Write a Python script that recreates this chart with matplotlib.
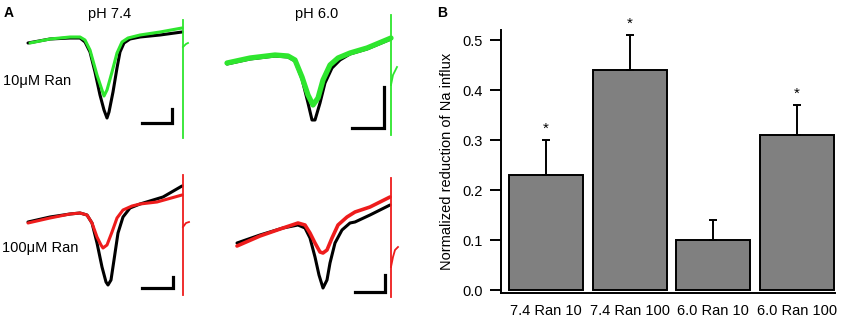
import matplotlib.pyplot as plt

plt.rcParams['font.family'] = ['Liberation Sans', 'DejaVu Sans']

W, H = 843, 318
GREEN = '#2ee62e'
RED = '#ee1c1c'

# ---- panel A: current traces (t in ms, I in relative units) ----
# 10 uM, pH 7.4
tl_ctrl_t = [0, 2.2, 4.2, 5.2, 5.7, 6.2, 6.7, 7.2, 7.6, 7.9, 8.1, 8.5, 8.9, 9.2, 9.6, 10.2, 11.2, 13.2, 15.4]
tl_ctrl_i = [0, 0.4, 0.5, 0.5, 0.1, -0.9, -2.9, -5.2, -6.7, -7.5, -6.9, -4.9, -2.5, -0.9, 0, 0.4, 0.6, 0.8, 1.1]
tl_drug_t = [0.2, 2.2, 4.2, 5.2, 5.7, 6.2, 6.9, 7.4, 7.6, 7.9, 8.4, 8.9, 9.4, 10.0, 11.2, 13.2, 15.4]
tl_drug_i = [0, 0.4, 0.6, 0.6, 0.3, -0.7, -3.2, -4.7, -5.3, -4.7, -2.9, -1.0, 0.1, 0.5, 0.8, 1.1, 1.5]
# 10 uM, pH 6.0
tr_ctrl_t = [0, 2.3, 4.8, 6.1, 6.8, 7.5, 8.1, 8.5, 8.8, 9.3, 9.8, 10.5, 11.3, 12.3, 14.0, 16.4]
tr_ctrl_i = [-0.1, 0.4, 0.7, 0.6, 0.2, -1.6, -4.0, -5.7, -5.7, -4.0, -2.0, -0.5, 0.3, 0.9, 1.4, 2.4]
tr_drug_t = [0, 2.3, 4.8, 6.1, 6.8, 7.5, 8.1, 8.6, 9.1, 9.6, 10.3, 11.1, 12.3, 14.0, 16.4]
tr_drug_i = [0, 0.5, 0.8, 0.7, 0.3, -1.4, -3.2, -4.2, -3.5, -1.7, -0.2, 0.5, 1.0, 1.5, 2.5]
# 100 uM, pH 7.4
bl_ctrl_t = [0, 2.2, 4.2, 5.2, 5.9, 6.4, 6.9, 7.4, 7.8, 8.0, 8.3, 8.6, 9.0, 9.5, 10.2, 11.2, 13.5, 15.4]
bl_ctrl_i = [0, 0.5, 0.8, 0.9, 0.7, -0.1, -2.1, -4.5, -6.0, -6.3, -5.8, -3.8, -1.1, 0.5, 1.4, 1.8, 2.5, 3.6]
bl_drug_t = [0, 2.2, 4.2, 5.2, 5.9, 6.4, 6.9, 7.3, 7.5, 7.9, 8.4, 8.9, 9.5, 10.4, 11.2, 12.9, 15.4]
bl_drug_i = [-0.1, 0.4, 0.8, 0.9, 0.7, -0.1, -1.5, -2.3, -2.6, -2.3, -1.0, 0.4, 1.2, 1.6, 1.8, 2.0, 2.7]
# 100 uM, pH 6.0
br_ctrl_t = [0, 2.3, 4.6, 6.1, 6.8, 7.3, 7.8, 8.2, 8.6, 9.0, 9.3, 9.8, 10.5, 11.3, 11.8, 13.3, 15.3]
br_ctrl_i = [0, 0.8, 1.5, 1.8, 1.5, 0.5, -1.4, -3.2, -4.5, -3.7, -2.0, 0, 1.3, 2.0, 2.1, 2.8, 3.8]
br_drug_t = [0, 2.3, 4.6, 6.1, 6.8, 7.3, 7.8, 8.3, 8.6, 9.0, 9.5, 10.1, 11.0, 11.8, 13.3, 15.3]
br_drug_i = [-0.3, 0.7, 1.5, 2.0, 1.8, 1.0, 0, -0.9, -1.0, -0.7, 0.5, 1.8, 2.6, 3.1, 3.6, 4.6]

# stimulus artefact: time, top, bottom, hook (t, i)
tl_stim = (15.5, 2.3, -9.5, [15.5, 15.8, 16.0], [-0.4, -0.1, 0.0])
tr_stim = (16.4, 4.8, -7.2, [16.4, 16.6, 17.0], [-2.2, -1.2, -0.4])
bl_stim = (15.5, 4.7, -7.3, [15.5, 15.8, 16.1], [-0.5, -0.1, 0.0])
br_stim = (15.4, 6.5, -5.4, [15.4, 15.6, 15.8, 16.1], [-2.4, -1.4, -0.7, -0.4])

# scale bars: corner (t, i), horizontal length, vertical length
tl_bar = (14.4, -8.0, 3.0, 1.4)
tr_bar = (15.7, -6.5, 3.2, 4.1)
bl_bar = (14.5, -6.6, 3.1, 1.1)
br_bar = (14.8, -4.9, 3.0, 1.7)

# ---- panel B: bar chart ----
groups = ['7.4 Ran 10', '7.4 Ran 100', '6.0 Ran 10', '6.0 Ran 100']
reduction = [0.23, 0.44, 0.10, 0.31]
reduction_err = [0.07, 0.07, 0.04, 0.06]
significant = [True, True, False, True]

fig = plt.figure(figsize=(W / 100, H / 100), dpi=100)


def trace_axes(x0, y0, x1, y1, ox, oy, k=10.0):
    # axes in pixel box, data origin at pixel (ox, oy), k px per unit
    ax = fig.add_axes([x0 / W, 1 - y1 / H, (x1 - x0) / W, (y1 - y0) / H])
    ax.set_xlim((x0 - ox) / k, (x1 - ox) / k)
    ax.set_ylim(-(y1 - oy) / k, -(y0 - oy) / k)
    ax.axis('off')
    return ax


def draw_trace(ax, ct, ci, dt, di, col, stim, bar, dlw=2.2):
    ax.plot(ct, ci, color='black', lw=2.2, solid_capstyle='round', solid_joinstyle='round')
    ax.plot(dt, di, color=col, lw=dlw, solid_capstyle='round', solid_joinstyle='round')
    st, top, bot, ht, hi = stim
    ax.plot([st, st], [top, bot], color=col, lw=1.3)
    ax.plot(ht, hi, color=col, lw=1.3)
    bx, by, bw, bh = bar
    ax.plot([bx - bw, bx, bx], [by, by, by + bh], color='black', lw=2.3,
            solid_joinstyle='miter')


ax1 = trace_axes(15, 10, 205, 145, 28, 43)
draw_trace(ax1, tl_ctrl_t, tl_ctrl_i, tl_drug_t, tl_drug_i, GREEN, tl_stim, tl_bar)
ax2 = trace_axes(215, 10, 410, 145, 227, 63)
draw_trace(ax2, tr_ctrl_t, tr_ctrl_i, tr_drug_t, tr_drug_i, GREEN, tr_stim, tr_bar, dlw=3.8)
ax3 = trace_axes(15, 165, 205, 305, 28, 222)
draw_trace(ax3, bl_ctrl_t, bl_ctrl_i, bl_drug_t, bl_drug_i, RED, bl_stim, bl_bar)
ax4 = trace_axes(215, 165, 410, 305, 237, 243)
draw_trace(ax4, br_ctrl_t, br_ctrl_i, br_drug_t, br_drug_i, RED, br_stim, br_bar, dlw=2.6)

fig.text(4 / W, 1 - 13 / H, 'A', fontsize=10, fontweight='bold', va='center', ha='left')
fig.text(110 / W, 1 - 14 / H, 'pH 7.4', fontsize=10.5, va='center', ha='center')
fig.text(317 / W, 1 - 14 / H, 'pH 6.0', fontsize=10.5, va='center', ha='center')
fig.text(3 / W, 1 - 81 / H, '10\u03bcM Ran', fontsize=10.5, va='center', ha='left')
fig.text(2 / W, 1 - 248 / H, '100\u03bcM Ran', fontsize=10.5, va='center', ha='left')
fig.text(437 / W, 1 - 13 / H, 'B', fontsize=10, fontweight='bold', va='center', ha='left')

# bar chart axes
axb = fig.add_axes([501 / W, 1 - 293 / H, (835 - 501) / W, (293 - 30) / H])
x = range(len(groups))
axb.bar(x, reduction, width=0.885, color='#808080', edgecolor='black', linewidth=1.4)
axb.errorbar(x, reduction, yerr=[[0] * len(groups), reduction_err], fmt='none',
             ecolor='black', elinewidth=1.4, capsize=3, capthick=1.4)
for i in x:
    if significant[i]:
        axb.text(i, reduction[i] + reduction_err[i] + 0.022, '*', ha='center', va='center',
                 fontsize=11)
axb.set_xlim(-0.538, 3.454)
axb.set_ylim(-0.006, 0.52)
axb.set_yticks([0.0, 0.1, 0.2, 0.3, 0.4, 0.5])
axb.set_yticklabels(['0.0', '0.1', '0.2', '0.3', '0.4', '0.5'])
axb.set_xticks(list(x))
axb.set_xticklabels(groups)
axb.tick_params(axis='y', length=8, width=1.4, pad=5, labelsize=10.5)
axb.tick_params(axis='x', length=0, pad=8, labelsize=10.5)
axb.spines['top'].set_visible(False)
axb.spines['right'].set_visible(False)
axb.spines['left'].set_linewidth(1.4)
axb.spines['bottom'].set_linewidth(1.4)
axb.set_ylabel('Normalized reduction of Na influx', fontsize=10.5, labelpad=6)

fig.savefig('out.png', dpi=100)
